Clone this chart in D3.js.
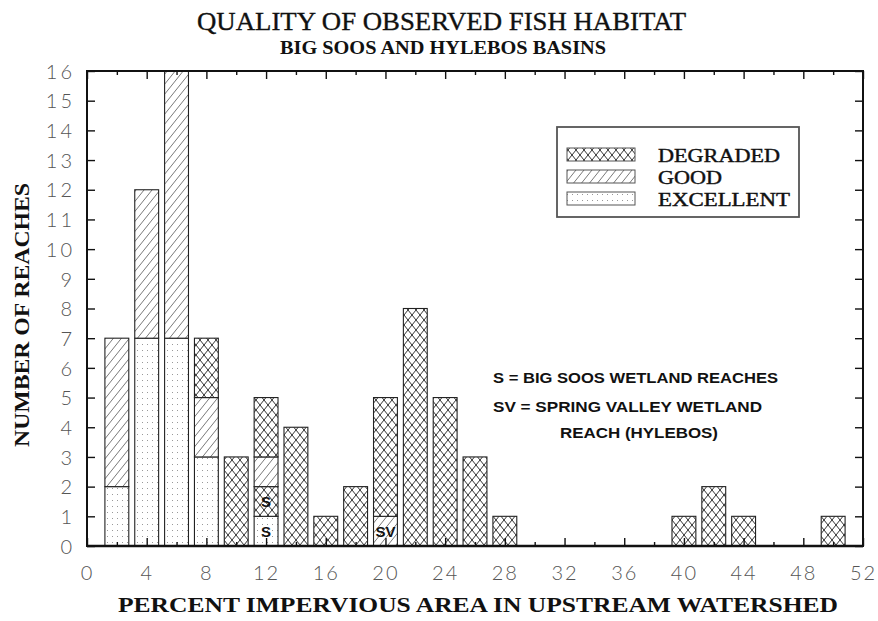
<!DOCTYPE html>
<html>
<head>
<meta charset="utf-8">
<script src="https://cdn.jsdelivr.net/npm/d3@7"></script>
<style>
  html, body { margin: 0; padding: 0; background: #fff; }
  svg { display: block; }
</style>
</head>
<body>
<script>
// ---------------- DATA ----------------
const bins      = [2, 4, 6, 8, 10, 12, 14, 16, 18, 20, 22, 24, 26, 28, 40, 42, 44, 50];
const excellent = [2, 7, 7, 3, 0, 0, 0, 0, 0, 0, 0, 0, 0, 0, 0, 0, 0, 0];
const good      = [5, 5, 9, 2, 0, 1, 0, 0, 0, 0, 0, 0, 0, 0, 0, 0, 0, 0];
const degraded  = [0, 0, 0, 2, 3, 2, 4, 1, 2, 4, 8, 5, 3, 1, 1, 2, 1, 1];
// wetland reaches (stacked at the bottom of their bars)
const wetlandBins   = [12, 12, 20];
const wetlandClass  = ["EXCELLENT", "DEGRADED", "GOOD"];
const wetlandCounts = [1, 1, 1];
const wetlandLabels = ["S", "S", "SV"];

const classes      = ["DEGRADED", "GOOD", "EXCELLENT"];
const xTickLabels  = [0, 4, 8, 12, 16, 20, 24, 28, 32, 36, 40, 44, 48, 52];
const xMinorTicks  = [2, 6, 10, 14, 18, 22, 26, 30, 34, 38, 42, 46, 50];
const yTickLabels  = [0, 1, 2, 3, 4, 5, 6, 7, 8, 9, 10, 11, 12, 13, 14, 15, 16];

const titleText    = "QUALITY OF OBSERVED FISH HABITAT";
const subtitleText = "BIG SOOS AND HYLEBOS BASINS";
const xTitle       = "PERCENT IMPERVIOUS AREA IN UPSTREAM WATERSHED";
const yTitle       = "NUMBER OF REACHES";
const noteLines    = ["S = BIG SOOS WETLAND REACHES", "SV = SPRING VALLEY WETLAND", "REACH (HYLEBOS)"];

// ---------------- LAYOUT ----------------
const W = 878, H = 621;
const pL = 87, pR = 863, pT = 71, pB = 546;
const barHalf = 0.8;

const svg = d3.select("body").append("svg").attr("width", W).attr("height", H);
svg.append("rect").attr("width", W).attr("height", H).attr("fill", "#fff");

const x = d3.scaleLinear().domain([0, 52]).range([pL, pR]);
const y = d3.scaleLinear().domain([0, 16]).range([pB, pT]);

// ---------------- PATTERNS ----------------
const defs = svg.append("defs");
const pd = defs.append("pattern").attr("id", "pat-DEGRADED")
  .attr("patternUnits", "userSpaceOnUse").attr("width", 8).attr("height", 10);
pd.append("rect").attr("width", 8).attr("height", 10).attr("fill", "#fff");
pd.append("path").attr("d", "M-1,-1.25L9,11.25M9,-1.25L-1,11.25")
  .attr("stroke", "#333").attr("stroke-width", 1).attr("fill", "none");

const pg = defs.append("pattern").attr("id", "pat-GOOD")
  .attr("patternUnits", "userSpaceOnUse").attr("width", 8).attr("height", 10);
pg.append("rect").attr("width", 8).attr("height", 10).attr("fill", "#fff");
pg.append("path").attr("d", "M-1,11.25L9,-1.25M-3,3.75L1,-1.25M7,11.25L11,6.25")
  .attr("stroke", "#555").attr("stroke-width", 0.8).attr("fill", "none");

const pe = defs.append("pattern").attr("id", "pat-EXCELLENT")
  .attr("patternUnits", "userSpaceOnUse").attr("width", 5).attr("height", 6);
pe.append("rect").attr("width", 5).attr("height", 6).attr("fill", "#fff");
pe.append("rect").attr("x", 2).attr("y", 2).attr("width", 1).attr("height", 1).attr("fill", "#999");

// ---------------- BUILD SEGMENTS ----------------
const segments = [];
bins.forEach((b, i) => {
  let base = 0;
  wetlandBins.forEach((wb, j) => {
    if (wb === b) {
      segments.push({ bin: b, cls: wetlandClass[j], y0: base, y1: base + wetlandCounts[j], label: wetlandLabels[j] });
      base += wetlandCounts[j];
    }
  });
  [["EXCELLENT", excellent[i]], ["GOOD", good[i]], ["DEGRADED", degraded[i]]].forEach(([c, v]) => {
    if (v > 0) {
      segments.push({ bin: b, cls: c, y0: base, y1: base + v, label: null });
      base += v;
    }
  });
});

const g = svg.append("g");
g.selectAll("rect.seg").data(segments).enter().append("rect")
  .attr("class", "seg")
  .attr("x", d => x(d.bin - barHalf))
  .attr("width", d => x(d.bin + barHalf) - x(d.bin - barHalf))
  .attr("y", d => y(d.y1))
  .attr("height", d => y(d.y0) - y(d.y1))
  .attr("fill", d => `url(#pat-${d.cls})`)
  .attr("stroke", "#222").attr("stroke-width", 1.1);

g.selectAll("text.wl").data(segments.filter(d => d.label)).enter().append("text")
  .attr("class", "wl")
  .attr("x", d => x(d.bin))
  .attr("y", d => (y(d.y0) + y(d.y1)) / 2 + 5.5)
  .attr("text-anchor", "middle")
  .attr("font-family", "'Liberation Sans', Arial, sans-serif")
  .attr("font-weight", "bold").attr("font-size", 15).attr("fill", "#111")
  .text(d => d.label);

// ---------------- AXES ----------------
const tickFont = "Lato, 'DejaVu Sans', sans-serif";
function styleAxis(sel) {
  sel.select(".domain").remove();
  sel.selectAll(".tick line").attr("stroke", "#111").attr("stroke-width", 1.4);
  sel.selectAll(".tick text").attr("font-family", tickFont).attr("font-weight", 300)
    .attr("font-size", 20).attr("fill", "#555");
}

// left
svg.append("g").attr("transform", `translate(${pL},0)`)
  .call(d3.axisLeft(y).tickValues(yTickLabels).tickSize(-8).tickPadding(12).tickFormat(d3.format("d")))
  .call(styleAxis)
  .call(s => s.selectAll(".tick text").attr("letter-spacing", 3).attr("dy", "0.36em"));
// right
svg.append("g").attr("transform", `translate(${pR},0)`)
  .call(d3.axisRight(y).tickValues(yTickLabels).tickSize(-8).tickFormat(""))
  .call(styleAxis);
// bottom major
svg.append("g").attr("transform", `translate(0,${pB})`)
  .call(d3.axisBottom(x).tickValues(xTickLabels).tickSize(-8).tickPadding(24).tickFormat(d3.format("d")))
  .call(styleAxis)
  .call(s => s.selectAll(".tick text").attr("letter-spacing", 2).attr("dy", "0.5em"));
// bottom minor
svg.append("g").attr("transform", `translate(0,${pB})`)
  .call(d3.axisBottom(x).tickValues(xMinorTicks).tickSize(-4).tickFormat(""))
  .call(styleAxis);
// top major / minor
svg.append("g").attr("transform", `translate(0,${pT})`)
  .call(d3.axisTop(x).tickValues(xTickLabels).tickSize(-8).tickFormat(""))
  .call(styleAxis);
svg.append("g").attr("transform", `translate(0,${pT})`)
  .call(d3.axisTop(x).tickValues(xMinorTicks).tickSize(-4).tickFormat(""))
  .call(styleAxis);

// frame
svg.append("rect").attr("x", pL).attr("y", pT)
  .attr("width", pR - pL).attr("height", pB - pT)
  .attr("fill", "none").attr("stroke", "#111").attr("stroke-width", 2);
svg.append("line").attr("x1", pL).attr("x2", pR).attr("y1", pB).attr("y2", pB)
  .attr("stroke", "#111").attr("stroke-width", 2.6);

// ---------------- TITLES ----------------
const serif = "'Liberation Serif', 'Times New Roman', serif";
svg.append("text").attr("x", 197).attr("y", 30).attr("font-family", serif)
  .attr("font-size", 26).attr("fill", "#111").attr("stroke", "#111").attr("stroke-width", 0.35)
  .attr("textLength", 489).attr("lengthAdjust", "spacingAndGlyphs").text(titleText);
svg.append("text").attr("x", 280).attr("y", 54).attr("font-family", serif)
  .attr("font-size", 18).attr("font-weight", "bold").attr("fill", "#111")
  .attr("textLength", 326).attr("lengthAdjust", "spacingAndGlyphs").text(subtitleText);
svg.append("text").attr("x", 118).attr("y", 612).attr("font-family", serif)
  .attr("font-size", 22).attr("font-weight", "bold").attr("fill", "#111")
  .attr("textLength", 720).attr("lengthAdjust", "spacingAndGlyphs").text(xTitle);
svg.append("text").attr("transform", "translate(29,447) rotate(-90)")
  .attr("font-family", serif).attr("font-size", 21).attr("font-weight", "bold").attr("fill", "#111")
  .attr("textLength", 264).attr("lengthAdjust", "spacingAndGlyphs").text(yTitle);

// ---------------- LEGEND ----------------
const lg = svg.append("g");
lg.append("rect").attr("x", 557).attr("y", 127).attr("width", 242).attr("height", 90)
  .attr("fill", "#fff").attr("stroke", "#555").attr("stroke-width", 1.8);
const legY = d3.scalePoint().domain(classes).range([148, 192]);
lg.selectAll("rect.sw").data(classes).enter().append("rect").attr("class", "sw")
  .attr("x", 567).attr("y", d => legY(d)).attr("width", 68).attr("height", 13)
  .attr("fill", d => `url(#pat-${d})`).attr("stroke", "#555").attr("stroke-width", 1);
const legLen = { DEGRADED: 122, GOOD: 64, EXCELLENT: 132 };
lg.selectAll("text.lt").data(classes).enter().append("text").attr("class", "lt")
  .attr("x", 658).attr("y", d => legY(d) + 13.5)
  .attr("font-family", serif).attr("font-size", 18).attr("fill", "#111")
  .attr("stroke", "#111").attr("stroke-width", 0.4)
  .attr("textLength", d => legLen[d]).attr("lengthAdjust", "spacingAndGlyphs")
  .text(d => d);

// ---------------- NOTES ----------------
const notePos = [[493, 383, 285], [493, 412, 269], [560, 438, 158]];
svg.selectAll("text.note").data(noteLines).enter().append("text").attr("class", "note")
  .attr("x", (d, i) => notePos[i][0]).attr("y", (d, i) => notePos[i][1])
  .attr("font-family", "'Liberation Sans', Arial, sans-serif").attr("font-weight", "bold")
  .attr("font-size", 15).attr("fill", "#111")
  .attr("textLength", (d, i) => notePos[i][2]).attr("lengthAdjust", "spacingAndGlyphs")
  .text(d => d);
</script>
</body>
</html>
